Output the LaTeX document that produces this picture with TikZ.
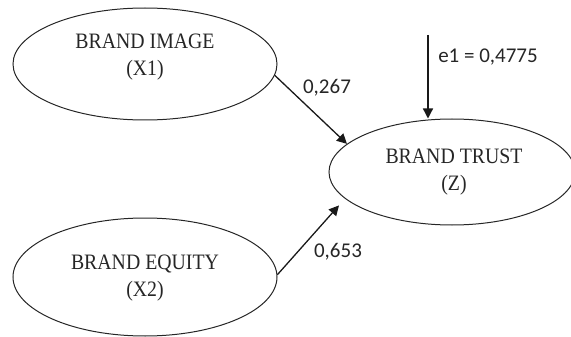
\documentclass[tikz,border=0pt]{standalone}
\usepackage{fontspec}
\usetikzlibrary{shapes.geometric,arrows.meta}
\newfontfamily\constructfont[FakeStretch=0.9]{Liberation Serif}
\newfontfamily\coeffont{Carlito}
\begin{document}
\begin{tikzpicture}[x=1pt,y=-1pt,
  latent/.style={ellipse,draw=black!85,line width=1pt,inner sep=0pt},
  vartext/.style={align=center,inner sep=0pt,text=black!85,
    font=\constructfont\fontsize{22}{27}\selectfont},
  coef/.style={inner sep=0pt,text=black!85,font=\coeffont\fontsize{21}{24}\selectfont},
  path/.style={draw=black!90,line width=1.3pt,-{Triangle[length=10pt,width=10pt]}}]
\useasboundingbox (0,0) rectangle (571,337);

% latent constructs
\node[latent,minimum width=264pt,minimum height=112pt] (x1) at (145,64) {};
\node[latent,minimum width=264pt,minimum height=118pt] (x2) at (145,277) {};
\node[latent,minimum width=246pt,minimum height=106pt] (z) at (452,172) {};

\node[vartext] (x1t) at (145,57) {BRAND IMAGE\\(X1)};
\node[vartext] (x2t) at (145,278) {BRAND EQUITY\\(X2)};
\node[vartext] (zt) at (454,172) {BRAND TRUST\\(Z)};

% structural paths
\draw[path] (x1.-5) -- (z.165.4);
\draw[path,shorten >=9pt] (x2.1) -- (z.194.2);

% residual term
\coordinate (e1top) at (428,35);
\draw[path] (e1top) -- (e1top |- z.north);

% coefficients
\node[coef] (c1) at (327,88) {0,267};
\node[coef] (c2) at (338,252) {0,653};
\node[coef] (ce) at (488,57) {e1 = 0,4775};
\end{tikzpicture}
\end{document}
